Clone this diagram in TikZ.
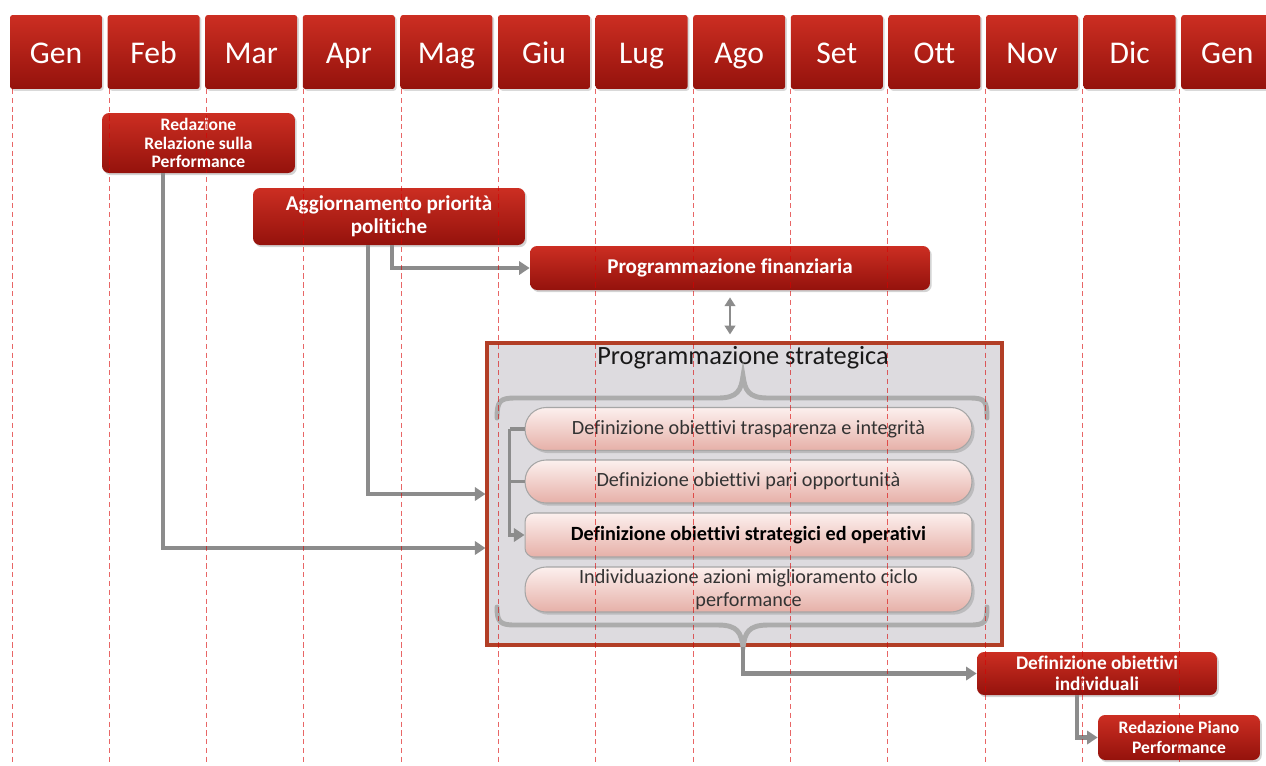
\documentclass[tikz,border=0pt]{standalone}
\usepackage{fontspec}
\setmainfont[Ligatures=NoCommon]{Carlito}
\usetikzlibrary{shadows, arrows.meta}

\definecolor{boxtop}{RGB}{204,46,34}
\definecolor{boxbot}{RGB}{148,18,12}
\definecolor{linkgray}{RGB}{140,140,140}
\definecolor{pilltop}{RGB}{252,240,238}
\definecolor{pillbot}{RGB}{230,176,168}
\definecolor{framered}{RGB}{178,62,38}
\definecolor{panelgray}{RGB}{221,219,223}

\begin{document}
\begin{tikzpicture}[
    x=0.02cm, y=-0.02cm,
    month/.style={
        rectangle, rounded corners=1.5pt,
        top color=boxtop, bottom color=boxbot,
        minimum width=1.84cm, minimum height=1.48cm,
        text height=16pt, text depth=2.4pt,
        text=white, font=\fontsize{18}{20}\selectfont,
        drop shadow={opacity=0.3, shadow xshift=1pt, shadow yshift=-1pt}
    },
    phase/.style={
        rectangle, rounded corners=4pt,
        top color=boxtop, bottom color=boxbot,
        text=white, align=center, inner sep=1pt,
        drop shadow={opacity=0.35, shadow xshift=1pt, shadow yshift=-1.2pt}
    },
    pill/.style={
        rectangle, rounded corners=0.42cm,
        top color=pilltop, bottom color=pillbot,
        draw=gray!70, line width=0.6pt,
        minimum width=8.94cm, minimum height=0.86cm, inner sep=1pt,
        text=black!80, align=center, font=\fontsize{11.5}{13}\selectfont,
        drop shadow={opacity=0.35, shadow xshift=1.5pt, shadow yshift=-1.5pt}
    },
    panel/.style={
        rectangle, fill=panelgray, draw=framered, line width=1.8pt,
        minimum width=10.3cm, minimum height=6.04cm
    },
    flow/.style={draw=linkgray, line width=2.4pt, -{Triangle[length=6pt,width=7.5pt]}},
    bar/.style={draw=linkgray, line width=1.8pt},
    dbl/.style={draw=linkgray, line width=1.6pt,
        {Triangle[length=5pt,width=6pt]}-{Triangle[length=5pt,width=6pt]}},
    curly/.style={draw=gray!65, line width=2.8pt, line cap=round},
    monthline/.style={draw=red!85!black, densely dashed, line width=0.5pt, opacity=0.6}
]

  \useasboundingbox (0,0) rectangle (1266,765);

  % MONTHS
  \node[month] (gen)  at (56,52)     {Gen};
  \node[month] (feb)  at (153.6,52)  {Feb};
  \node[month] (mar)  at (251.2,52)  {Mar};
  \node[month] (apr)  at (348.8,52)  {Apr};
  \node[month] (mag)  at (446.4,52)  {Mag};
  \node[month] (giu)  at (544,52)    {Giu};
  \node[month] (lug)  at (641.6,52)  {Lug};
  \node[month] (ago)  at (739.2,52)  {Ago};
  \node[month] (set)  at (836.8,52)  {Set};
  \node[month] (ott)  at (934.4,52)  {Ott};
  \node[month] (nov)  at (1032,52)   {Nov};
  \node[month] (dic)  at (1129.6,52) {Dic};
  \node[month] (gen2) at (1227.2,52) {Gen};

  % PHASES
  \node[phase, minimum width=3.86cm, minimum height=1.2cm,
        font=\fontsize{10}{10.5}\selectfont\bfseries] (relazione) at (198.5,143)
        {Redazione\\Relazione sulla\\Performance};
  \node[phase, minimum width=5.44cm, minimum height=1.14cm,
        font=\fontsize{12}{13}\selectfont\bfseries] (priorita) at (389,216.5)
        {Aggiornamento priorità\\politiche};
  \node[phase, minimum width=8cm, minimum height=0.88cm,
        font=\fontsize{12}{13}\selectfont\bfseries] (finanza) at (730,268)
        {Programmazione finanziaria};

  % STRATEGIC PLANNING
  \node[panel] (strategica) at (744.5,494) {};
  \node[font=\fontsize{15}{17}\selectfont, text=black!90] (titolo) at (743,358)
        {Programmazione strategica};

  \draw[curly] (497,418) .. controls (497,401) and (500,398) .. (515,398) -- (718,398)
        .. controls (738,398) and (741,390) .. (743,376)
        .. controls (745,390) and (748,398) .. (768,398) -- (970,398)
        .. controls (985,398) and (987,401) .. (987,418);
  \draw[curly] (497,607) .. controls (497,622) and (500,625) .. (515,625) -- (718,625)
        .. controls (738,625) and (741,633) .. (743,647)
        .. controls (745,633) and (748,625) .. (768,625) -- (970,625)
        .. controls (985,625) and (987,622) .. (987,607);
  \coordinate (punta) at (743,647);

  \node[pill] (trasp) at (748.5,429) {Definizione obiettivi trasparenza e integrità};
  \node[pill] (pari)  at (748.5,481.5) {Definizione obiettivi pari opportunità};
  \node[pill, rounded corners=5pt, minimum height=0.88cm,
        font=\fontsize{11.5}{13}\selectfont\bfseries, text=black] (strat) at (748.5,535)
        {Definizione obiettivi strategici ed operativi};
  \node[pill, minimum height=0.9cm] (ciclo) at (748.5,589.5)
        {Individuazione azioni miglioramento ciclo\\performance};

  \draw[bar] (trasp.west) -- ++(-15,0) coordinate (spigolo);
  \draw[bar] (pari.west) -- (pari.west -| spigolo);
  \draw[flow, line width=1.8pt] (spigolo) |- (strat.west);

  % INDIVIDUAL OBJECTIVES
  \node[phase, minimum width=4.8cm, minimum height=0.86cm,
        font=\fontsize{11}{12}\selectfont\bfseries] (individuali) at (1097,673.5)
        {Definizione obiettivi\\individuali};
  \node[phase, minimum width=3.24cm, minimum height=0.9cm,
        font=\fontsize{10}{11.4}\selectfont\bfseries] (piano) at (1179,737.5)
        {Redazione Piano\\Performance};

  % CONNECTORS
  \draw[flow] ([xshift=-0.71cm]relazione.south) |- ([yshift=-1.08cm]strategica.west);
  \draw[flow] ([xshift=-0.42cm]priorita.south) |- (strategica.west);
  \draw[flow] ([xshift=0.06cm]priorita.south) |- (finanza.west);
  \draw[dbl] ([yshift=-0.14cm]finanza.south) -- ([yshift=0.14cm]finanza.south |- strategica.north);
  \draw[flow] (punta) |- (individuali.west);
  \draw[flow] ([xshift=-0.4cm]individuali.south) |- (piano.west);

  % MONTH LINES
  \draw[monthline] (12,89) -- (12,765)
                   (109.3,89) -- (109.3,765)
                   (206.6,89) -- (206.6,765)
                   (303.9,89) -- (303.9,765)
                   (401.2,89) -- (401.2,765)
                   (498.5,89) -- (498.5,765)
                   (595.8,89) -- (595.8,765)
                   (693.1,89) -- (693.1,765)
                   (790.4,89) -- (790.4,765)
                   (887.7,89) -- (887.7,765)
                   (985,89) -- (985,765)
                   (1082.3,89) -- (1082.3,765)
                   (1179.6,89) -- (1179.6,765);

\end{tikzpicture}
\end{document}
